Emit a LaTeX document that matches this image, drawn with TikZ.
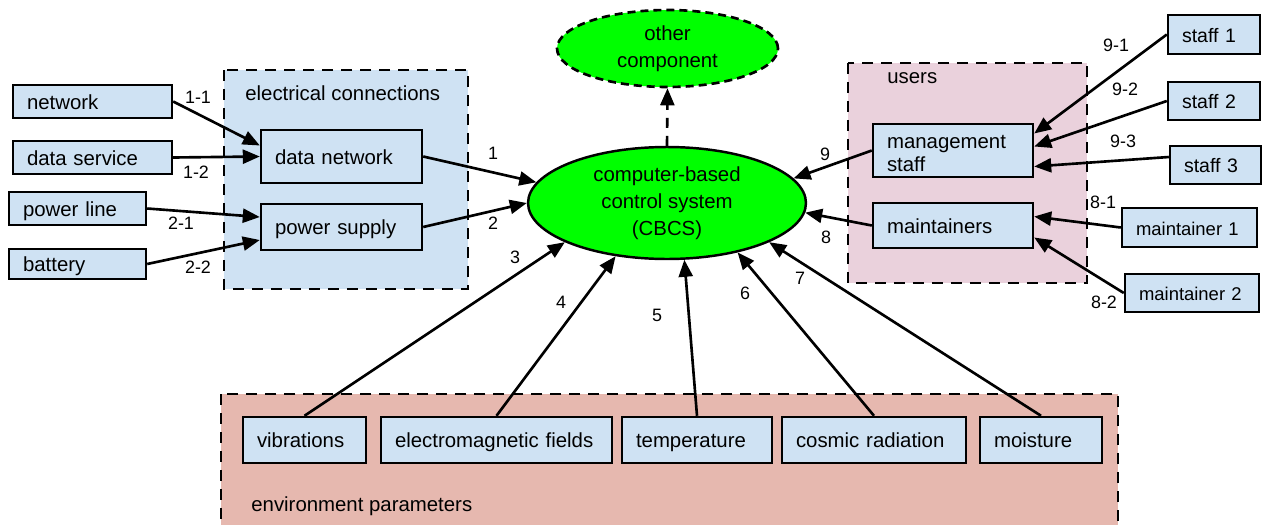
\documentclass[tikz,border=0pt]{standalone}
\usepackage{fontspec}
\setmainfont{Liberation Sans}
\usetikzlibrary{calc}
\usetikzlibrary{shapes.geometric}
\usetikzlibrary{arrows.meta}

\definecolor{itemblue}{HTML}{CFE2F3}
\definecolor{userpink}{HTML}{EAD1DC}
\definecolor{envred}{HTML}{E6B8AF}
\definecolor{cbcsgreen}{HTML}{00FF00}

\newcommand{\boxstrut}{\rule[-2pt]{0pt}{13pt}}

\tikzset{
  item/.style={rectangle,draw=black,fill=itemblue,line width=1.4pt,inner xsep=0.28cm,inner ysep=0pt,align=left,execute at begin node={\boxstrut}},
  group/.style={draw=black,line width=1.5pt,dash pattern=on 0.22cm off 0.16cm},
  conn/.style={arrows=-{Triangle[length=0.34cm,width=0.28cm]},line width=1.5pt},
  num/.style={font=\fontsize{10.2}{12}\selectfont,inner sep=0pt}
}

\begin{document}
\begin{tikzpicture}[x=0.02cm,y=-0.02cm,font=\fontsize{11.6}{14}\selectfont]

\path[use as bounding box] (0,0) rectangle (1263,524);
\clip (0,0) rectangle (1263,524);

%%%%%%%%%%%%%%%%%%%%%
%draw groups
\draw[group,fill=itemblue] (224,70) rectangle (468,289);
\node[anchor=west,inner sep=0pt] at (245,93) (ELECLABEL) {electrical connections};

\draw[group,fill=userpink] (848,63) rectangle (1087,283);
\node[anchor=west,inner sep=0pt] at (887,78) (USERSLABEL) {users};

\draw[group,fill=envred] (221,394) rectangle (1118,560);
\node[anchor=west,inner sep=0pt] at (251,506) (ENVLABEL) {environment parameters};

%%%%%%%
%draw left inputs
\node[item,text width=2.62cm,minimum height=0.66cm] at (92.5,101.5) (NETWORK) {network};
\node[item,text width=2.62cm,minimum height=0.66cm] at (92.5,157.5) (DATASERVICE) {data service};
\node[item,text width=2.18cm,minimum height=0.66cm] at (77.5,208.5) (POWERLINE) {power line};
\node[item,text width=2.18cm,minimum height=0.60cm] at (77.5,264) (BATTERY) {battery};

%draw electrical connections
\node[item,text width=2.66cm,minimum height=1.06cm] at (341.5,156.5) (DATANET) {data network};
\node[item,text width=2.66cm,minimum height=0.92cm] at (341.5,227) (POWERSUP) {power supply};

%%%%%%%
%draw control system
\node[ellipse,draw=black,fill=cbcsgreen,line width=1.4pt,minimum width=5.56cm,minimum height=2.24cm,inner sep=0pt,align=center,font=\fontsize{11.6}{15.4}\selectfont] at (667,203) (CBCS) {computer-based\\control system\\(CBCS)};
\node[ellipse,draw=black,fill=cbcsgreen,line width=1.5pt,dash pattern=on 0.16cm off 0.1cm,minimum width=4.42cm,minimum height=1.54cm,inner sep=0pt,align=center,font=\fontsize{11.6}{15.4}\selectfont] at (667.5,48.5) (OTHER) {other\\component};

%%%%%%%
%draw users
\node[item,text width=2.64cm,minimum height=1.06cm,font=\fontsize{11.6}{13}\selectfont] at (953,150.5) (MGMT) {management\\staff};
\node[item,text width=2.64cm,minimum height=0.90cm] at (953,225.5) (MAINT) {maintainers};

\node[item,text width=1.28cm,minimum height=0.78cm,font=\fontsize{11.1}{13}\selectfont] at (1214,34.5) (STAFF1) {staff 1};
\node[item,text width=1.28cm,minimum height=0.76cm,font=\fontsize{11.1}{13}\selectfont] at (1214,101) (STAFF2) {staff 2};
\node[item,text width=1.26cm,minimum height=0.76cm,font=\fontsize{11.1}{13}\selectfont] at (1215.5,165) (STAFF3) {staff 3};
\node[item,text width=2.14cm,minimum height=0.78cm,font=\fontsize{10.5}{12}\selectfont] at (1189.5,227.5) (MAINT1) {maintainer 1};
\node[item,text width=2.12cm,minimum height=0.76cm,font=\fontsize{10.5}{12}\selectfont] at (1192,293) (MAINT2) {maintainer 2};

%%%%%%%
%draw environment parameters
\node[item,text width=1.90cm,minimum height=0.92cm] at (304.5,440) (VIB) {vibrations};
\node[item,text width=4.06cm,minimum height=0.92cm] at (496.5,440) (EMF) {electromagnetic fields};
\node[item,text width=2.44cm,minimum height=0.92cm] at (697,440) (TEMP) {temperature};
\node[item,text width=3.12cm,minimum height=0.92cm] at (874,440) (COSMIC) {cosmic radiation};
\node[item,text width=1.88cm,minimum height=0.92cm] at (1041,440) (MOIST) {moisture};

%%%%%%%%%%%%%%%%%%%
%draw arrows into electrical connections
\draw[conn] (NETWORK.east) -- ($(DATANET.west)+(0,-11)$);
\draw[conn] (DATASERVICE.east) -- (DATANET.west);
\draw[conn] (POWERLINE.east) -- ($(POWERSUP.west)+(0,-10)$);
\draw[conn] (BATTERY.east) -- ($(POWERSUP.west)+(0,13)$);

\node[num] at (198,97) (LBL11) {1-1};
\node[num] at (196,172) (LBL12) {1-2};
\node[num] at (181,223) (LBL21) {2-1};
\node[num] at (198,267) (LBL22) {2-2};

%draw arrows into control system
\draw[conn] (DATANET.east) -- (CBCS.171);
\draw[conn] (POWERSUP.east) -- (CBCS.180);
\draw[conn] (VIB.north) -- (CBCS.201);
\draw[conn] (EMF.north) -- (CBCS.226);
\draw[conn] (TEMP.north) -- (CBCS.287);
\draw[conn] (COSMIC.north) -- (CBCS.325);
\draw[conn] (MOIST.north) -- (CBCS.339);
\draw[conn] (MAINT.west) -- (CBCS.356);
\draw[conn] (MGMT.west) -- (CBCS.11);

\node[num] at (493,153) (LBL1) {1};
\node[num] at (493,223) (LBL2) {2};
\node[num] at (515,257) (LBL3) {3};
\node[num] at (561,302) (LBL4) {4};
\node[num] at (657,315) (LBL5) {5};
\node[num] at (745,293) (LBL6) {6};
\node[num] at (800,278) (LBL7) {7};
\node[num] at (826,237) (LBL8) {8};
\node[num] at (825,154) (LBL9) {9};

%draw arrow to other component
\draw[conn,dash pattern=on 0.2cm off 0.16cm] (CBCS.north) -- (OTHER.south);

%draw arrows into users
\draw[conn] (STAFF1.west) -- ($(MGMT.east)+(0,-17)$);
\draw[conn] (STAFF2.west) -- ($(MGMT.east)+(0,-4)$);
\draw[conn] ($(STAFF3.west)+(0,-8)$) -- ($(MGMT.east)+(0,16)$);
\draw[conn] (MAINT1.west) -- ($(MAINT.east)+(0,-9)$);
\draw[conn] (MAINT2.west) -- ($(MAINT.east)+(0,12)$);

\node[num] at (1116,45) (LBL91) {9-1};
\node[num] at (1125,89) (LBL92) {9-2};
\node[num] at (1123,141) (LBL93) {9-3};
\node[num] at (1103,202) (LBL81) {8-1};
\node[num] at (1104,302) (LBL82) {8-2};

%%%%%%%%%%%%%%%%%%%%%%

\end{tikzpicture}
\end{document}
